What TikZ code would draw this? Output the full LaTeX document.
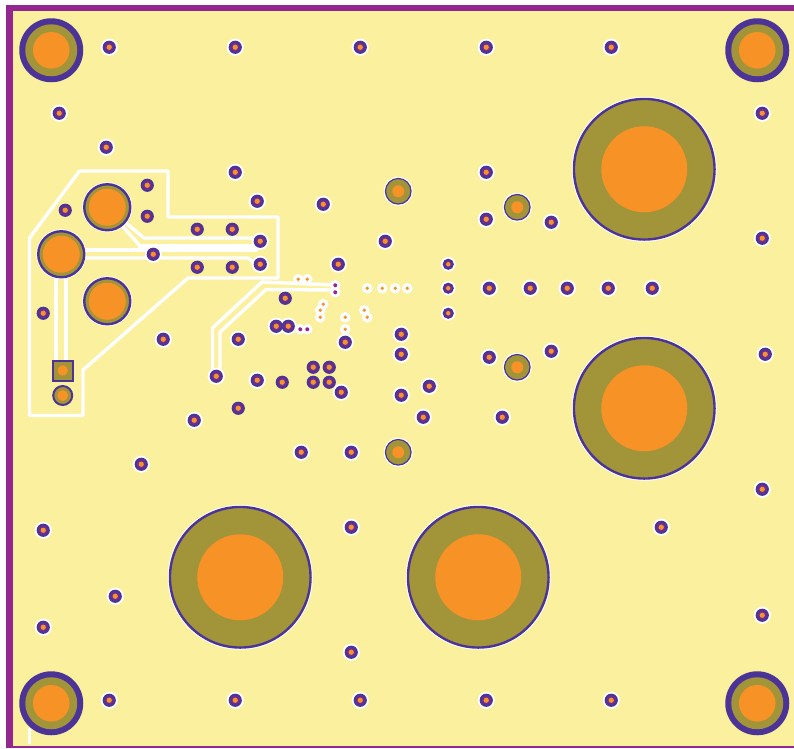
\documentclass[tikz,border=0pt]{standalone}
\definecolor{board}{HTML}{FBF09D}
\definecolor{edge}{HTML}{93278F}
\definecolor{ring}{HTML}{4B3397}
\definecolor{viaring}{HTML}{6A2E90}
\definecolor{olive}{HTML}{A29438}
\definecolor{copper}{HTML}{F79227}
\tikzset{
  trace/.style={white,line width=3.4pt,line join=round,line cap=round},
  halo/.style={fill=white},
  hole/.style={fill=copper},
  land/.style={fill=olive,draw=ring,line width=2.4pt}
}
\newcommand{\viastack}[3]{
  \fill[ring] (#1,#2) circle (#3);
  \fill[viaring] (#1,#2) circle (#3-1.7);
  \fill[hole] (#1,#2) circle (#3*0.4);
}
\begin{document}
\begin{tikzpicture}[x=1pt,y=-1pt]
  \path[use as bounding box] (0,0) rectangle (794,748);
  \fill[white] (0,0) rectangle (794,748);
  \fill[edge] (6.3,5) rectangle (794,748);
  \fill[board] (13,11) rectangle (794,745.7);

  % outline of the pour
  \draw[trace] (29.5,238) -- (79.5,171) -- (168,171) -- (168,217) -- (278,217) -- (278,278)
    -- (188,278) -- (83,370) -- (83,415.5) -- (29.5,415.5) -- cycle;
  \draw[trace,line cap=butt] (29.7,728) -- (29.7,743.5);

  % traces
  \draw[trace] (61,250) -- (140,250);
  \draw[trace] (61,258) -- (248,258) -- (260,268);
  \draw[trace,line width=4pt] (56.3,254) -- (56.3,370);
  \draw[trace,line width=4pt] (66.3,254) -- (66.3,370);
  \draw[trace] (107,207) -- (144,238) -- (260,238);
  \draw[trace] (107,209) -- (141,247);
  \draw[white,line width=8.4pt] (138,247.7) -- (258,247.7);
  \draw[trace] (216,376) -- (212.5,370) -- (212.5,328) -- (262,282) -- (335,285);
  \draw[trace] (220,376) -- (220,332) -- (266,289.5) -- (335,290);

  % vias with clearance
  \foreach \x/\y in {109/47,235/47,360/47,486/47,611/47,109/700,235/700,360/700,486/700,611/700,
    59/113,106/147,762/113,235/172,486/172,257/201,323/204,486/219,551/222,
    260/241,385/241,762/238,153/254,260/264,338/264,
    489/288,530/288,567/288,608/288,652/288,276/326,288/326,
    401/334,163/339,238/339,345/342,401/354,489/357,551/351,765/354,216/376,
    257/380,341/392,401/395,429/386,423/417,502/417,194/420,
    301/452,351/452,141/464,762/489,43/530,351/527,661/527,115/596,762/615,43/627,351/652} {
    \fill[halo] (\x+0.25,\y+0.25) circle (8.6);
  }
  \foreach \x/\y in {448/264,448/288,448/313} {
    \fill[halo] (\x+0.25,\y+0.25) circle (7.4);
  }
  \foreach \x/\y in {298/279,307/279,367/288,382/288,395/288,407/288,323/304,320/310,320/317,
    345/317,345/329,364/310,367/317,335/285,335/292,300/329,307/329} {
    \fill[halo] (\x+0.25,\y+0.25) circle (5.3);
  }
  \foreach \x/\y in {107/207,61/254,107/301} {
    \fill[halo] (\x+0.25,\y+0.25) circle (25);
  }
  \foreach \x/\y in {398/191,517/207,517/367,398/452} {
    \fill[halo] (\x+0.25,\y+0.25) circle (14.5);
  }

  \foreach \x/\y in {109/47,235/47,360/47,486/47,611/47,109/700,235/700,360/700,486/700,611/700,
    59/113,106/147,762/113,235/172,486/172,257/201,323/204,486/219,551/222,
    260/241,385/241,762/238,153/254,260/264,338/264,
    489/288,530/288,567/288,608/288,652/288,276/326,288/326,
    401/334,163/339,238/339,345/342,401/354,489/357,551/351,765/354,216/376,
    257/380,341/392,401/395,429/386,423/417,502/417,194/420,
    301/452,351/452,141/464,762/489,43/530,351/527,661/527,115/596,762/615,43/627,351/652,
    147/185,147/216,65/210,197/229,232/229,197/267,232/267,43/313,285/298,282/382,
    313/367,329/367,313/382,329/382,238/408} {
    \pgfmathsetmacro{\vx}{\x+0.25}
    \pgfmathsetmacro{\vy}{\y+0.25}
    \viastack{\vx}{\vy}{6.6}
  }
  \foreach \x/\y in {448/264,448/288,448/313} {
    \pgfmathsetmacro{\vx}{\x+0.25}
    \pgfmathsetmacro{\vy}{\y+0.25}
    \viastack{\vx}{\vy}{5.6}
  }
  \foreach \x/\y in {298/279,307/279,367/288,382/288,395/288,407/288,323/304,320/310,320/317,
    345/317,345/329,364/310,367/317} {
    \fill[hole] (\x+0.25,\y+0.25) circle (1.8);
  }
  \foreach \x/\y in {335/285,335/292,300/329,307/329} {
    \fill[edge] (\x+0.25,\y+0.25) circle (2);
  }

  % pads
  \foreach \x/\y in {644/169,644/408,240/577,478/577} {
    \fill[halo] (\x+0.25,\y+0.25) circle (72.5);
    \draw[land] (\x+0.25,\y+0.25) circle (70.3);
    \fill[hole] (\x+0.25,\y+0.25) circle (43);
  }
  \foreach \x/\y in {107/207,61/254,107/301} {
    \draw[land] (\x+0.25,\y+0.25) circle (23);
    \fill[hole] (\x+0.25,\y+0.25) circle (18.5);
  }
  \foreach \x/\y in {398/191,517/207,517/367,398/452} {
    \draw[land,line width=1.2pt] (\x+0.25,\y+0.25) circle (12.8);
    \fill[hole] (\x+0.25,\y+0.25) circle (6);
  }
  \foreach \x/\y in {51/50,757/50,51/703,757/703} {
    \fill[ring] (\x+0.25,\y+0.25) circle (32);
    \fill[olive] (\x+0.25,\y+0.25) circle (26);
    \fill[hole] (\x+0.25,\y+0.25) circle (18.3);
  }

  % connector
  \draw[land,line width=2pt] (52.7,360.5) rectangle (72.7,380.5);
  \fill[hole] (62.7,370.5) circle (5.2);
  \draw[land,line width=2pt] (62.7,395.5) circle (9.5);
  \fill[hole] (62.7,395.5) circle (5.4);
\end{tikzpicture}
\end{document}
